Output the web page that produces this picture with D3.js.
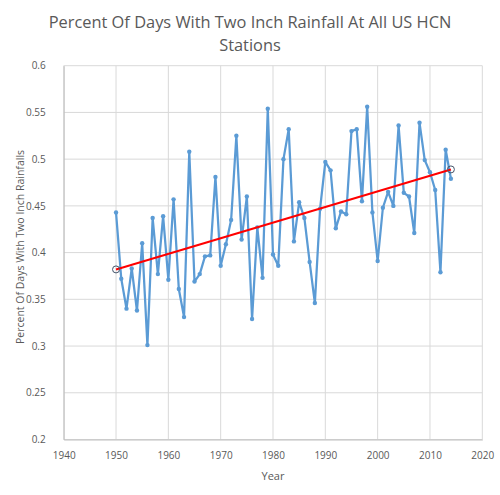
<!DOCTYPE html>
<html>
<head>
<meta charset="utf-8">
<script src="https://cdn.jsdelivr.net/npm/d3@7"></script>
<style>
  body { margin: 0; background: white; }
  text { font-family: "Open Sans", sans-serif; fill: #595959; }
</style>
</head>
<body>
<div class="chart"></div>
<script>
    var years = [];
    for (var yr = 1950; yr <= 2014; yr++) years.push(yr);

    var percents = [
      0.443, 0.372, 0.340, 0.383, 0.338, 0.410, 0.301, 0.437, 0.377, 0.439,
      0.371, 0.457, 0.361, 0.331, 0.508, 0.369, 0.377, 0.396, 0.397, 0.481,
      0.386, 0.409, 0.435, 0.525, 0.414, 0.460, 0.329, 0.427, 0.373, 0.554,
      0.398, 0.386, 0.500, 0.532, 0.412, 0.454, 0.437, 0.390, 0.346, 0.447,
      0.497, 0.488, 0.426, 0.444, 0.441, 0.530, 0.532, 0.455, 0.556, 0.443,
      0.391, 0.448, 0.465, 0.450, 0.536, 0.464, 0.460, 0.421, 0.539, 0.499,
      0.486, 0.467, 0.379, 0.510, 0.479
    ];

    var trendYears = [1950, 2014];
    var trendValues = [0.382, 0.489];

    var xTicks = [1940, 1950, 1960, 1970, 1980, 1990, 2000, 2010, 2020];
    var yTicks = [0.2, 0.25, 0.3, 0.35, 0.4, 0.45, 0.5, 0.55, 0.6];

    var titleLines = ["Percent Of Days With Two Inch Rainfall At All US HCN", "Stations"];

    var svg = d3.select(".chart")
                .append("svg")
                .attr("width", 500)
                .attr("height", 495);

    var x = d3.scaleLinear().domain([1940, 2020]).range([63.7, 482.3]);
    var y = d3.scaleLinear().domain([0.2, 0.6]).range([439.5, 65.7]);

    // gridlines
    svg.append("g")
       .selectAll("line.h")
       .data(yTicks)
       .enter().append("line")
       .attr("x1", x(1940)).attr("x2", x(2020))
       .attr("y1", d => y(d)).attr("y2", d => y(d))
       .attr("stroke", "#d9d9d9").attr("stroke-width", 1);
    svg.append("g")
       .selectAll("line.v")
       .data(xTicks)
       .enter().append("line")
       .attr("x1", d => x(d)).attr("x2", d => x(d))
       .attr("y1", y(0.2)).attr("y2", y(0.6))
       .attr("stroke", "#d9d9d9").attr("stroke-width", 1);

    // axes (labels only)
    var xAxis = svg.append("g")
       .attr("transform", "translate(0," + y(0.2) + ")")
       .call(d3.axisBottom(x).tickValues(xTicks).tickFormat(d3.format("d")).tickSize(0).tickPadding(12));
    xAxis.select(".domain").attr("stroke", "#bfbfbf");
    xAxis.selectAll("text").style("font-size", "10px").style("fill", "#595959");

    var yAxis = svg.append("g")
       .attr("transform", "translate(" + x(1940) + ",0)")
       .call(d3.axisLeft(y).tickValues(yTicks).tickFormat(d => String(+d.toFixed(2))).tickSize(0).tickPadding(18));
    yAxis.select(".domain").attr("stroke", "#bfbfbf");
    yAxis.selectAll("text").style("font-size", "10px").style("fill", "#595959");

    // data line
    var line = d3.line()
                 .x((d, i) => x(years[i]))
                 .y(d => y(d));
    svg.append("path")
       .datum(percents)
       .attr("d", line)
       .attr("fill", "none")
       .attr("stroke", "#5b9bd5")
       .attr("stroke-width", 2.25)
       .attr("stroke-linejoin", "round");
    svg.append("g")
       .selectAll("circle")
       .data(percents)
       .enter().append("circle")
       .attr("cx", (d, i) => x(years[i]))
       .attr("cy", d => y(d))
       .attr("r", 2.2)
       .attr("fill", "#5b9bd5");

    // trend line
    svg.append("line")
       .attr("x1", x(trendYears[0])).attr("y1", y(trendValues[0]))
       .attr("x2", x(trendYears[1])).attr("y2", y(trendValues[1]))
       .attr("stroke", "#ff0000")
       .attr("stroke-width", 2);
    svg.append("g")
       .selectAll("circle")
       .data(trendValues)
       .enter().append("circle")
       .attr("cx", (d, i) => x(trendYears[i]))
       .attr("cy", d => y(d))
       .attr("r", 3.5)
       .attr("fill", "none")
       .attr("stroke", "#44546a")
       .attr("stroke-width", 1);

    // title
    svg.append("g")
       .selectAll("text")
       .data(titleLines)
       .enter().append("text")
       .attr("text-anchor", "middle")
       .attr("x", 250)
       .attr("y", (d, i) => 28 + i * 22.5)
       .style("font-size", "16.4px")
       .text(d => d);

    // axis titles
    svg.append("text")
       .attr("text-anchor", "middle")
       .attr("x", (x(1940) + x(2020)) / 2)
       .attr("y", 480)
       .style("font-size", "11px")
       .text("Year");
    svg.append("text")
       .attr("text-anchor", "middle")
       .attr("transform", "translate(24," + 247 + ") rotate(-90)")
       .style("font-size", "10.5px")
       .text("Percent Of Days With Two Inch Rainfalls");
</script>
</body>
</html>
